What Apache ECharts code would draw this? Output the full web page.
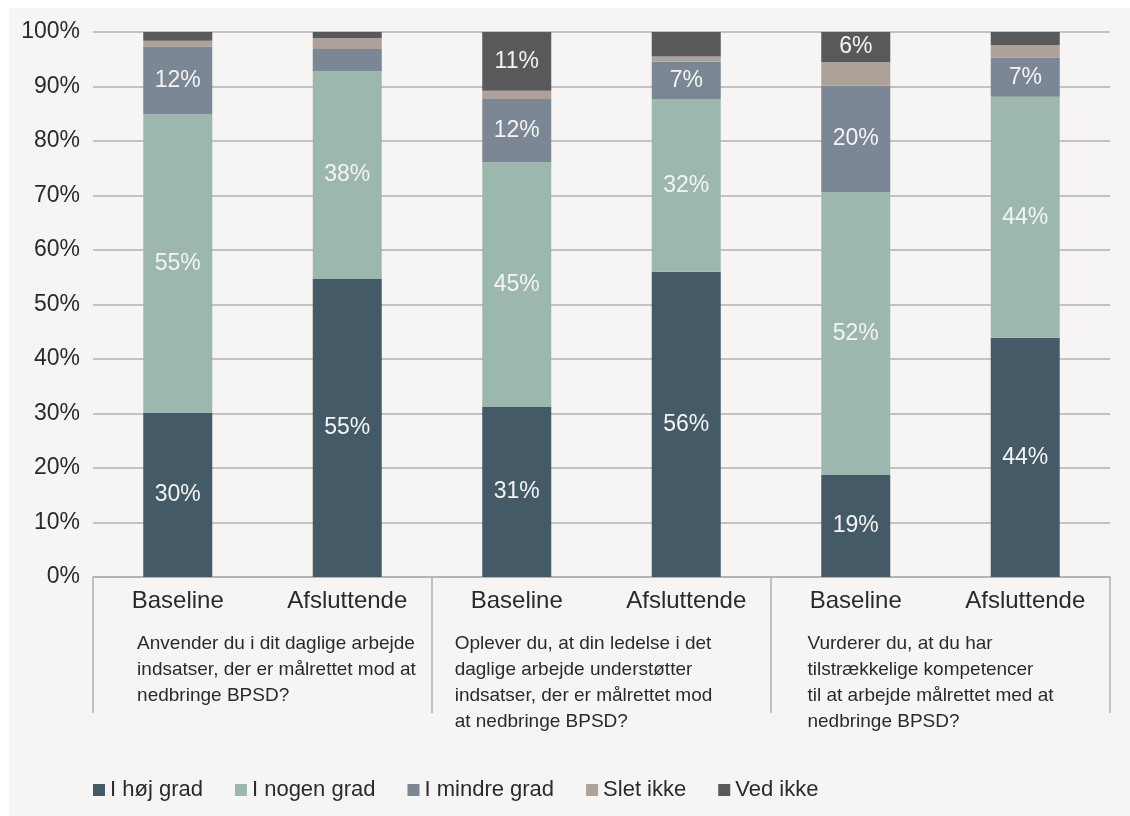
<!DOCTYPE html>
<html>
<head>
<meta charset="utf-8">
<script src="https://cdn.jsdelivr.net/npm/echarts@6/dist/echarts.min.js"></script>
<style>
  html, body { margin: 0; padding: 0; background: #ffffff; }
  #chart { position: absolute; left: 9px; top: 8px; width: 1121px; height: 808px; background: #f6f5f3; }
</style>
</head>
<body>
<div id="chart"></div>
<script>
// categories
var periods = ['Baseline', 'Afsluttende', 'Baseline', 'Afsluttende', 'Baseline', 'Afsluttende'];
var questions = [
    'Anvender du i dit daglige arbejde\nindsatser, der er målrettet mod at\nnedbringe BPSD?',
    'Oplever du, at din ledelse i det\ndaglige arbejde understøtter\nindsatser, der er målrettet mod\nat nedbringe BPSD?',
    'Vurderer du, at du har\ntilstrækkelige kompetencer\ntil at arbejde målrettet med at\nnedbringe BPSD?'
];
var seriesNames = ['I høj grad', 'I nogen grad', 'I mindre grad', 'Slet ikke', 'Ved ikke'];

// series values (%)
var hojGrad    = [30.1, 54.7, 31.2, 56.0, 18.7, 43.9];
var nogenGrad  = [54.8, 38.1, 44.9, 31.7, 51.9, 44.2];
var mindreGrad = [12.4, 4.1, 11.6, 6.9, 19.6, 7.2];
var sletIkke   = [1.1, 2.0, 1.5, 0.9, 4.3, 2.3];
var vedIkke    = [1.6, 1.1, 10.8, 4.5, 5.5, 2.4];

var colors = ['#445a67', '#9cb8ae', '#7b8794', '#ada199', '#58595b'];
var font = '"Liberation Sans", Arial, sans-serif';
var textColor = '#2a2a2a';

var myChart = echarts.init(document.getElementById('chart'));

function makeSeries(name, data) {
    return {
        name: name,
        type: 'bar',
        stack: 'total',
        barWidth: 69,
        label: {
            show: true,
            position: 'inside',
            color: '#f4f4f4',
            fontFamily: font,
            fontSize: 23,
            formatter: function (p) {
                // small segments carry no label
                return p.value >= 5 ? Math.round(p.value) + '%' : '';
            }
        },
        data: data
    };
}

// question text blocks: left aligned lines, nudged a little sideways per group
var qStyle = { align: 'left', color: textColor, fontSize: 19, lineHeight: 26, fontFamily: font };
var qRich = {
    q0: Object.assign({ padding: [0, 0, 0, 28] }, qStyle),
    q1: Object.assign({ padding: [0, 36, 0, 0] }, qStyle),
    q2: Object.assign({ padding: [0, 20, 0, 0] }, qStyle)
};

var option = {
    color: colors,
    animation: false,
    textStyle: { fontFamily: font },
    grid: {
        left: 84,
        top: 24,
        width: 1017,
        height: 545
    },
    legend: {
        left: 79,
        top: 766,
        icon: 'rect',
        itemWidth: 12,
        itemHeight: 12,
        itemGap: 32,
        textStyle: { color: textColor, fontSize: 22, fontFamily: font },
        data: seriesNames
    },
    xAxis: [
        {
            type: 'category',
            data: periods,
            axisTick: { show: false },
            axisLine: { lineStyle: { color: '#b0b0b0', width: 1.5 } },
            axisLabel: { color: textColor, fontSize: 24, margin: 12 }
        },
        {
            type: 'category',
            position: 'bottom',
            data: questions,
            axisLine: { show: false },
            axisTick: { show: true, length: 136, lineStyle: { color: '#b0b0b0', width: 1.5 } },
            axisLabel: {
                margin: 54,
                align: 'center',
                formatter: function (v, i) {
                    var s = 'q' + i;
                    return '{' + s + '|' + v.split('\n').join('}\n{' + s + '|') + '}';
                },
                rich: qRich
            }
        }
    ],
    yAxis: {
        type: 'value',
        min: 0,
        max: 100,
        interval: 10,
        axisLine: { show: false },
        axisTick: { show: false },
        splitLine: { lineStyle: { color: '#b0b0b0', width: 1.5 } },
        axisLabel: { formatter: '{value}%', color: textColor, fontSize: 23, margin: 13 }
    },
    series: [
        makeSeries(seriesNames[0], hojGrad),
        makeSeries(seriesNames[1], nogenGrad),
        makeSeries(seriesNames[2], mindreGrad),
        makeSeries(seriesNames[3], sletIkke),
        makeSeries(seriesNames[4], vedIkke)
    ]
};
myChart.setOption(option);
</script>
</body>
</html>
